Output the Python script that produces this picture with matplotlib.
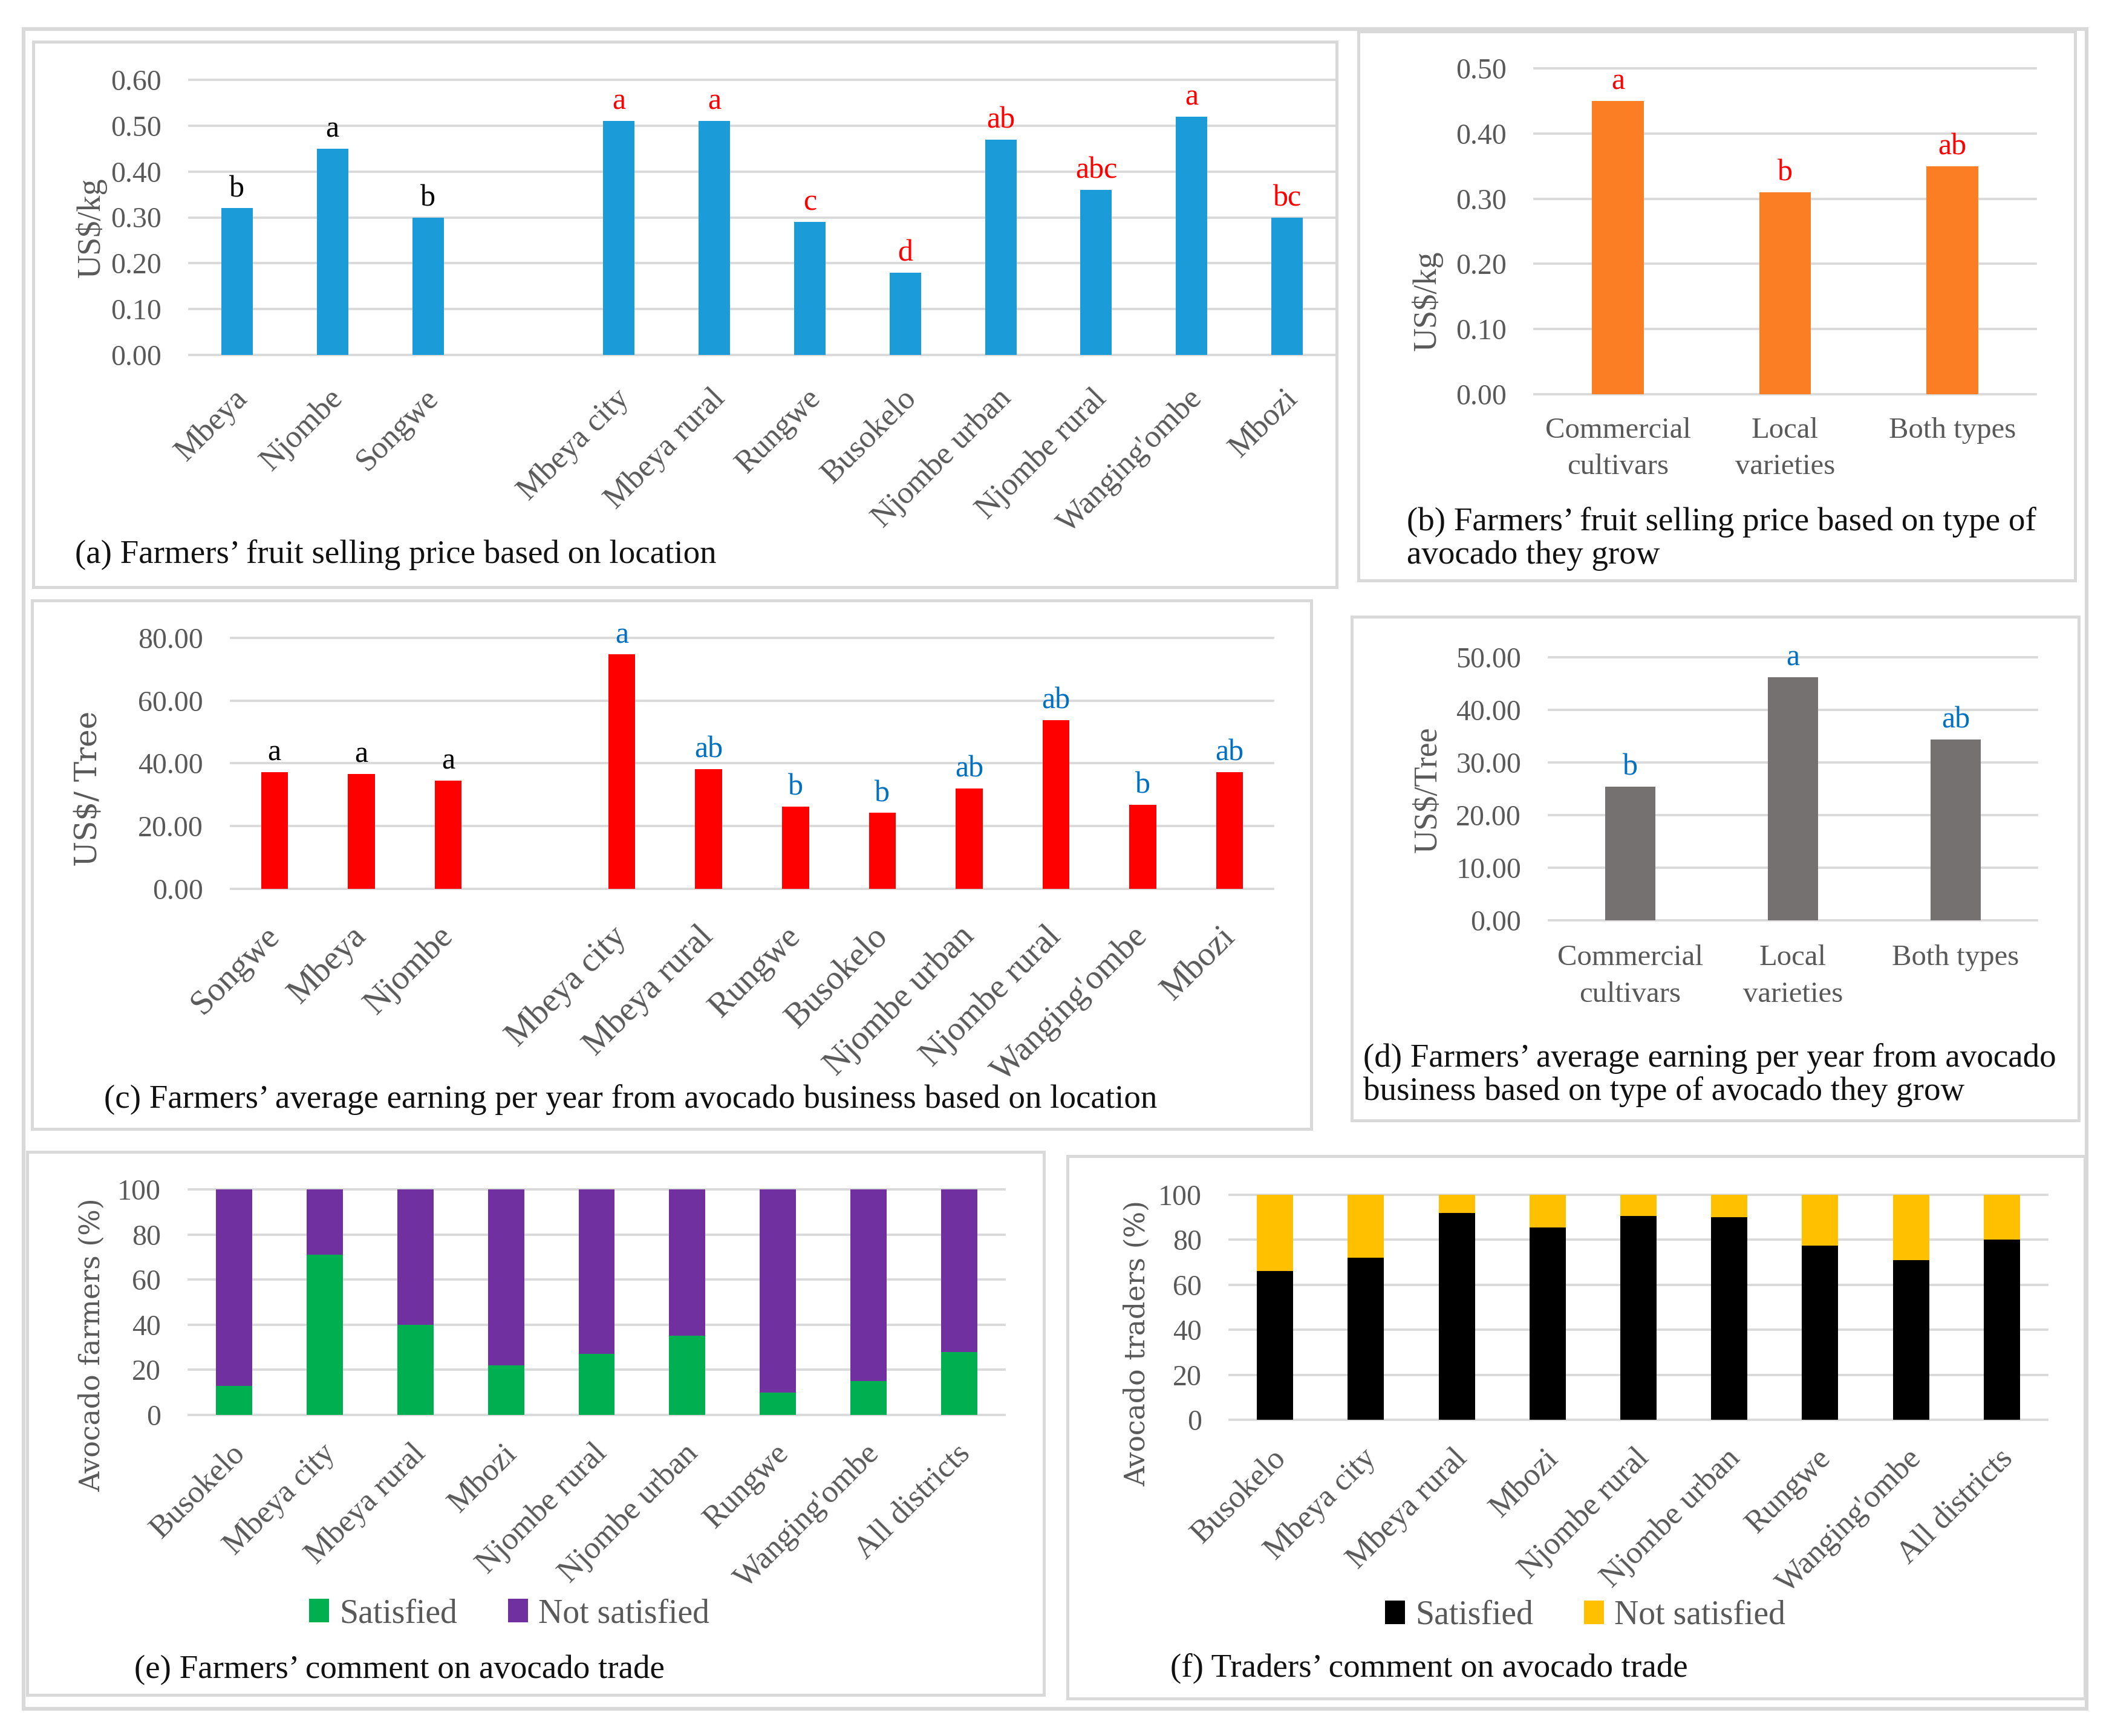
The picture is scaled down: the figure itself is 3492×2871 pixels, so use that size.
import numpy as np
import matplotlib
matplotlib.use("Agg")
import matplotlib.pyplot as plt
import matplotlib.transforms as mtransforms
from matplotlib.patches import Rectangle
from matplotlib.ticker import FormatStrFormatter

# figure size in pixels (original picture)
W, H = 3492, 2871
DPI = 300

# (a) selling price by location, blank slot separates regions from districts
loc_a = ["Mbeya", "Njombe", "Songwe", "", "Mbeya city", "Mbeya rural", "Rungwe",
         "Busokelo", "Njombe urban", "Njombe rural", "Wanging'ombe", "Mbozi"]
price_a = [0.32, 0.45, 0.30, np.nan, 0.51, 0.51, 0.29, 0.18, 0.47, 0.36, 0.52, 0.30]
letters_a = ["b", "a", "b", "", "a", "a", "c", "d", "ab", "abc", "a", "bc"]

# (b) selling price by avocado type
types = ["Commercial\ncultivars", "Local\nvarieties", "Both types"]
price_b = [0.45, 0.31, 0.35]
letters_b = ["a", "b", "ab"]

# (c) earning per tree by location
loc_c = ["Songwe", "Mbeya", "Njombe", "", "Mbeya city", "Mbeya rural", "Rungwe",
         "Busokelo", "Njombe urban", "Njombe rural", "Wanging'ombe", "Mbozi"]
earn_c = [37.2, 36.7, 34.6, np.nan, 74.7, 38.2, 26.2, 24.2, 32.0, 53.8, 26.8, 37.2]
letters_c = ["a", "a", "a", "", "a", "ab", "b", "b", "ab", "ab", "b", "ab"]

# (d) earning per tree by avocado type
earn_d = [25.4, 46.2, 34.4]
letters_d = ["b", "a", "ab"]

# (e) and (f) satisfaction with avocado trade (%)
districts = ["Busokelo", "Mbeya city", "Mbeya rural", "Mbozi", "Njombe rural",
             "Njombe urban", "Rungwe", "Wanging'ombe", "All districts"]
farmers_sat = [13, 71, 40, 22, 27, 35, 10, 15, 28]
traders_sat = [66, 72, 92, 85.5, 90.5, 90, 77.5, 71, 80]

GRAY = "#595959"
GRID = "#d9d9d9"
RED = "#ff0000"
BLUE = "#0070c0"
CAP = 13.2

plt.rcParams["font.family"] = ["Liberation Serif", "DejaVu Serif"]


def fig_rect(x0, y0, x1, y1):
    return [x0 / W, 1 - y1 / H, (x1 - x0) / W, (y1 - y0) / H]


def box(fig, x0, y0, x1, y1, lw=1.2):
    fig.patches.append(Rectangle((x0 / W, 1 - y1 / H), (x1 - x0) / W, (y1 - y0) / H,
                                 transform=fig.transFigure, fill=False,
                                 edgecolor=GRID, lw=lw))


def style(ax, ymax, step, fmt, labelsize=11.5):
    ax.set_ylim(0, ymax)
    ax.set_yticks(np.arange(0, ymax + step / 2, step))
    ax.yaxis.set_major_formatter(FormatStrFormatter(fmt))
    for s in ax.spines.values():
        s.set_visible(False)
    ax.grid(axis="y", color=GRID, lw=0.9)
    ax.set_axisbelow(True)
    ax.tick_params(length=0, colors=GRAY, labelsize=labelsize)
    ax.tick_params(axis="y", pad=11)
    for gl in ax.get_ygridlines():
        gl.set_clip_on(False)


def rotated_labels(fig, ax, labels, size, pad, shift_px=0):
    ax.set_xticks(np.arange(len(labels)))
    ax.set_xticklabels(labels, rotation=45, ha="right", va="center",
                       rotation_mode="anchor", fontsize=size)
    ax.tick_params(axis="x", pad=pad)
    if shift_px:
        off = mtransforms.ScaledTranslation(shift_px / DPI, 0, fig.dpi_scale_trans)
        for lab in ax.get_xticklabels():
            lab.set_transform(lab.get_transform() + off)


def letters_on(ax, x, vals, letters, colors, size=12):
    for xi, v, t, c in zip(x, vals, letters, colors):
        if t:
            ax.annotate(t, (xi, v), xytext=(0, 2), textcoords="offset points",
                        ha="center", va="bottom", color=c, fontsize=size,
                        family=["Liberation Serif"])


def caption(fig, x, y, text, size=CAP):
    fig.text(x / W, 1 - y / H, text, ha="left", va="center", fontsize=size,
             color="#111111", linespacing=1.1)


def ylabel(fig, x, y, text, size=13, family=None):
    kw = {}
    if family:
        kw["family"] = family
    fig.text(x / W, 1 - y / H, text, rotation=90, ha="center", va="center",
             fontsize=size, color=GRAY, **kw)


fig = plt.figure(figsize=(W / DPI, H / DPI), dpi=DPI)

# frames
box(fig, 39, 48, 3450, 2826, lw=1.5)
box(fig, 55, 69, 2210, 971)
box(fig, 2246, 52, 3431, 960)
box(fig, 53, 993, 2168, 1867)
box(fig, 2235, 1020, 3437, 1853)
box(fig, 45, 1905, 1726, 2803)
box(fig, 1765, 1912, 3447, 2809)

# (a)
ax = fig.add_axes(fig_rect(313, 132, 2207, 587))
xa = np.arange(len(loc_a))
ax.bar(xa, price_a, width=0.33, color="#1b9bd7")
style(ax, 0.6, 0.1, "%.2f")
ax.set_xlim(-0.5, len(loc_a) - 0.5)
rotated_labels(fig, ax, loc_a, 12.6, 15.5, shift_px=10)
letters_on(ax, xa, price_a, letters_a, ["black" if i < 3 else RED for i in xa])
ylabel(fig, 151, 376, "US$/kg")
caption(fig, 124, 917, "(a) Farmers\u2019 fruit selling price based on location")

# (b)
ax = fig.add_axes(fig_rect(2537, 113, 3366, 652))
xb = np.arange(len(types))
ax.bar(xb, price_b, width=0.31, color="#fb7e25")
style(ax, 0.5, 0.1, "%.2f")
ax.set_xlim(-0.5, len(types) - 0.5)
ax.set_xticks(xb)
ax.set_xticklabels(types, fontsize=11.7, linespacing=1.5)
ax.tick_params(axis="x", pad=9)
letters_on(ax, xb, price_b, letters_b, [RED] * 3)
ylabel(fig, 2360, 497, "US$/kg")
caption(fig, 2326, 891, "(b) Farmers\u2019 fruit selling price based on type of\navocado they grow")

# (c)
ax = fig.add_axes(fig_rect(382, 1055, 2105, 1470))
xc = np.arange(len(loc_c))
ax.bar(xc, earn_c, width=0.31, color=RED)
style(ax, 80, 20, "%.2f")
ax.set_xlim(-0.5, len(loc_c) - 0.5)
rotated_labels(fig, ax, loc_c, 13.6, 17)
letters_on(ax, xc, earn_c, letters_c, ["black" if i < 3 else BLUE for i in xc])
ylabel(fig, 147, 1304, "US$/ Tree", size=12, family=["DejaVu Serif"])
caption(fig, 172, 1818, "(c) Farmers\u2019 average earning per year from avocado business based on location")

# (d)
ax = fig.add_axes(fig_rect(2561, 1087, 3368, 1522))
xd = np.arange(len(types))
ax.bar(xd, earn_d, width=0.31, color="#767171")
style(ax, 50, 10, "%.2f")
ax.set_xlim(-0.5, len(types) - 0.5)
ax.set_xticks(xd)
ax.set_xticklabels(types, fontsize=11.7, linespacing=1.5)
ax.tick_params(axis="x", pad=9.5)
letters_on(ax, xd, earn_d, letters_d, [BLUE] * 3)
ylabel(fig, 2362, 1306, "US$/Tree")
caption(fig, 2254, 1778, "(d) Farmers\u2019 average earning per year from avocado\nbusiness based on type of avocado they grow")

# (e)
ax = fig.add_axes(fig_rect(312, 1967, 1661, 2340))
xe = np.arange(len(districts))
fs = np.array(farmers_sat, dtype=float)
h1 = ax.bar(xe, fs, width=0.4, color="#00b050", label="Satisfied")
h2 = ax.bar(xe, 100 - fs, bottom=fs, width=0.4, color="#7030a0", label="Not satisfied")
style(ax, 100, 20, "%d")
ax.set_xlim(-0.5, len(districts) - 0.5)
rotated_labels(fig, ax, districts, 12.6, 13.5, shift_px=10)
ax.legend(handles=[h1, h2], loc="center", ncol=2, frameon=False, fontsize=13.4,
          handlelength=0.6, handleheight=0.7, handletextpad=0.3, columnspacing=1.5,
          labelcolor=GRAY, bbox_to_anchor=(842 / W, 1 - 2669 / H),
          bbox_transform=fig.transFigure)
ylabel(fig, 152, 2224, "Avocado farmers (%)", size=11, family=["DejaVu Serif"])
caption(fig, 222, 2762, "(e) Farmers\u2019 comment on avocado trade")

# (f)
ax = fig.add_axes(fig_rect(2033, 1976, 3385, 2348))
xf = np.arange(len(districts))
ts = np.array(traders_sat, dtype=float)
h1 = ax.bar(xf, ts, width=0.4, color="black", label="Satisfied")
h2 = ax.bar(xf, 100 - ts, bottom=ts, width=0.4, color="#ffc000", label="Not satisfied")
style(ax, 100, 20, "%d")
ax.set_xlim(-0.5, len(districts) - 0.5)
rotated_labels(fig, ax, districts, 12.6, 13.5, shift_px=10)
ax.legend(handles=[h1, h2], loc="center", ncol=2, frameon=False, fontsize=13.4,
          handlelength=0.6, handleheight=0.7, handletextpad=0.3, columnspacing=1.5,
          labelcolor=GRAY, bbox_to_anchor=(2621 / W, 1 - 2672 / H),
          bbox_transform=fig.transFigure)
ylabel(fig, 1880, 2221, "Avocado traders (%)", size=11, family=["DejaVu Serif"])
caption(fig, 1935, 2759, "(f) Traders\u2019 comment on avocado trade")

fig.savefig("out.png", dpi=DPI)
